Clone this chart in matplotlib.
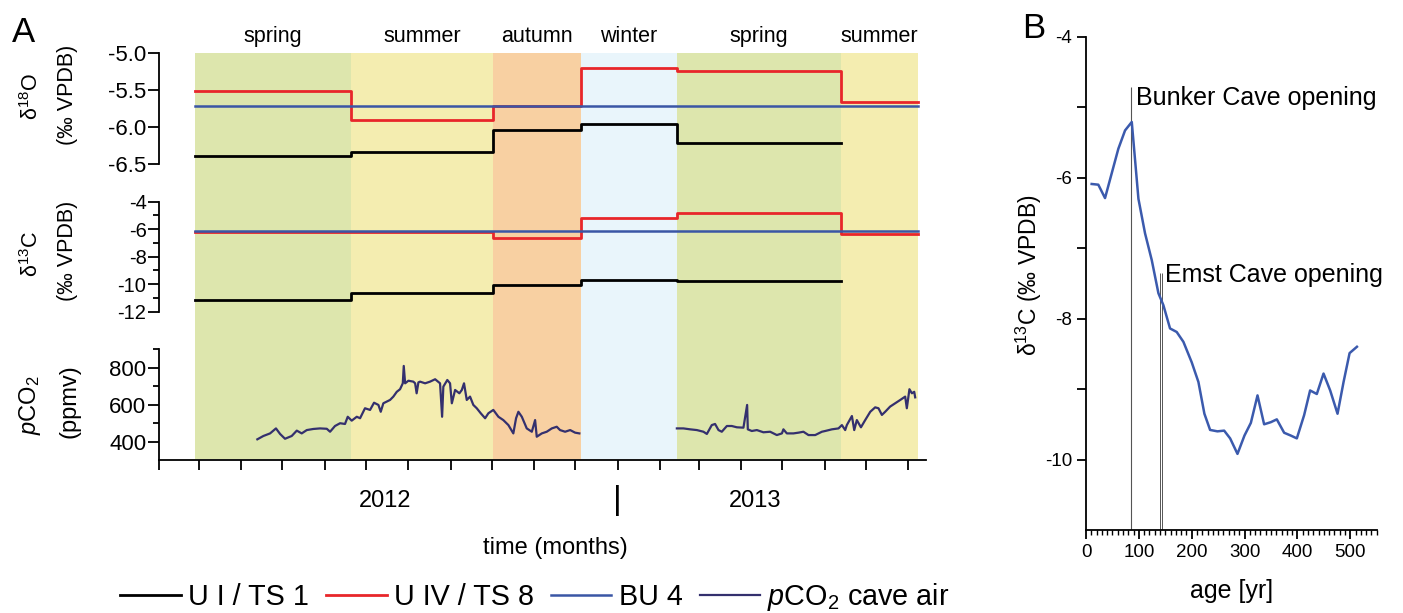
import numpy as np
import pandas as pd
import matplotlib
matplotlib.use('Agg')
import matplotlib.pyplot as plt
import matplotlib.dates as mdates
from matplotlib.ticker import MultipleLocator, FixedLocator

plt.rcParams['font.family'] = 'Liberation Sans'
plt.rcParams['mathtext.fontset'] = 'custom'
plt.rcParams['mathtext.rm'] = 'Liberation Sans'
plt.rcParams['mathtext.it'] = 'Liberation Sans:italic'
plt.rcParams['axes.unicode_minus'] = False

# sampling periods (seasons)
seasons = ['spring', 'summer', 'autumn', 'winter', 'spring', 'summer']
season_edges = pd.to_datetime(['2012-02-27', '2012-06-20', '2012-10-02', '2012-12-05',
                               '2013-02-13', '2013-06-13', '2013-08-08'])
season_colors = ['#dde6ad', '#f4edb0', '#f8d0a2', '#e9f5fb', '#dde6ad', '#f4edb0']

# d18O of calcite per season (permil VPDB)
d18o_u1 = [-6.39, -6.34, -6.04, -5.96, -6.21]
d18o_u4 = [-5.51, -5.90, -5.71, -5.20, -5.24, -5.66]
d18o_bu4 = -5.71

# d13C of calcite per season (permil VPDB)
d13c_u1 = [-11.15, -10.63, -10.08, -9.69, -9.77]
d13c_u4 = [-6.22, -6.20, -6.66, -5.16, -4.80, -6.37]
d13c_bu4 = -6.12

# cave air pCO2, days after 1 Feb 2012
start = pd.Timestamp('2012-02-01')
co2_days_1 = [71.8, 76.2, 81.1, 85.4, 88.4, 92.0, 96.9, 100.6, 104.2, 107.9,
              112.7, 117.6, 122.5, 124.9, 128.5, 132.2, 135.8, 137.8, 140.7, 144.4,
              146.8, 150.4, 154.1, 157.0, 160.2, 161.9, 163.8, 168.7, 171.1, 173.6,
              176.0, 178.0, 178.7, 179.7, 182.1, 185.7, 187.0, 188.1, 189.4, 190.6,
              194.3, 197.9, 201.6, 205.2, 206.7, 207.6, 210.5, 212.5, 213.8, 216.2,
              219.3, 221.1, 222.7, 224.7, 227.1, 229.5, 232.0, 234.9, 238.1, 240.5,
              244.1, 247.8, 251.4, 255.1, 258.7, 260.7, 262.4, 264.9, 268.5, 272.2,
              274.6, 275.8, 279.5, 283.1, 286.8, 290.4, 292.8, 296.5, 300.2, 303.8,
              306.9]
co2_ppm_1 = [413, 431, 445, 472, 442, 416, 431, 460, 445, 463,
             469, 472, 470, 454, 485, 500, 496, 535, 514, 535,
             527, 581, 572, 611, 599, 562, 608, 626, 644, 670,
             684, 716, 810, 716, 730, 725, 716, 662, 721, 725,
             716, 725, 738, 716, 535, 698, 734, 716, 608, 680,
             662, 680, 716, 626, 644, 599, 581, 554, 527, 554,
             572, 535, 517, 490, 445, 527, 562, 535, 472, 454,
             517, 427, 445, 454, 472, 481, 463, 454, 463, 449,
             445]
co2_days_2 = [378.1, 382.9, 387.8, 392.7, 397.5, 400.0, 403.6, 406.0, 408.5, 410.9,
              414.6, 418.2, 421.9, 426.7, 429.4, 429.9, 432.8, 436.5, 441.3, 446.2,
              451.1, 454.8, 455.9, 458.4, 463.2, 466.9, 470.5, 474.2, 479.1, 484.0,
              486.4, 491.3, 496.1, 498.6, 501.0, 502.2, 505.9, 507.6, 509.5, 512.5,
              515.6, 519.3, 522.9, 525.3, 527.8, 530.2, 533.8, 537.5, 541.2, 544.8,
              546.0, 547.9, 549.7, 551.4, 552.1]
co2_ppm_2 = [472, 472, 467, 463, 454, 442, 490, 496, 463, 454,
             485, 485, 478, 476, 599, 467, 458, 463, 451, 454,
             436, 445, 467, 445, 445, 449, 454, 436, 436, 454,
             458, 467, 472, 490, 463, 490, 539, 463, 517, 478,
             517, 562, 586, 581, 545, 562, 590, 608, 626, 644,
             581, 684, 662, 670, 640]

# panel B: stalagmite d13C record
age_yr = [10.7, 23.3, 36, 48.6, 61.2, 73.9, 86.6, 99.2, 111.7, 124.4,
          137, 146.4, 159, 171.6, 184.3, 200, 212.7, 224, 234.8, 248.6,
          261.4, 272.7, 286.6, 299.8, 311.9, 324.5, 337, 349.7, 361, 374.9,
          387.5, 398.9, 412.7, 424, 436.7, 449.4, 462, 475.9, 487.3, 498.7,
          512.6]
d13c_b = [-6.09, -6.10, -6.29, -5.94, -5.59, -5.33, -5.21, -6.30, -6.79, -7.17,
          -7.64, -7.81, -8.14, -8.19, -8.33, -8.62, -8.90, -9.35, -9.58, -9.60,
          -9.59, -9.70, -9.92, -9.66, -9.48, -9.09, -9.50, -9.47, -9.43, -9.62,
          -9.66, -9.70, -9.37, -9.02, -9.07, -8.78, -9.02, -9.35, -8.90, -8.49,
          -8.40]
bunker_open = 84.5
emst_open = [140, 144]

RED = '#e8262a'
BLUE = '#3a56a5'
CO2 = '#34306e'

W, H = 1403, 613
fig = plt.figure(figsize=(W / 100, H / 100), dpi=100)


def box(x0, y0, x1, y1):
    return [x0 / W, 1 - y1 / H, (x1 - x0) / W, (y1 - y0) / H]


def fxy(x, y):
    return x / W, 1 - y / H


xlim = (start, start + pd.Timedelta(days=560))

# background with season shading
ax_bg = fig.add_axes(box(159, 53, 926, 459))
for i, c in enumerate(season_colors):
    ax_bg.axvspan(season_edges[i], season_edges[i + 1], color=c, lw=0)
ax_bg.set_xlim(xlim)
ax_bg.set_ylim(0, 1)
ax_bg.axis('off')
edge_num = mdates.date2num(season_edges)
for i, name in enumerate(seasons):
    ax_bg.text((edge_num[i] + edge_num[i + 1]) / 2, 1.04, name, ha='center', va='center',
               fontsize=15.5)

ax1 = fig.add_axes(box(159, 53, 926, 164))
ax2 = fig.add_axes(box(159, 201.7, 926, 311.7))
ax3 = fig.add_axes(box(159, 349.3, 926, 460.2))


def steps(ax, vals, color, lw, z):
    x = season_edges[:len(vals) + 1]
    y = list(vals) + [vals[-1]]
    return ax.step(x, y, where='post', color=color, lw=lw, zorder=z)[0]


# d18O
h_u4 = steps(ax1, d18o_u4, RED, 2.0, 3)
h_bu = ax1.plot([season_edges[0], season_edges[-1]], [d18o_bu4, d18o_bu4], color=BLUE, lw=1.8, zorder=4)[0]
h_u1 = steps(ax1, d18o_u1, 'black', 2.0, 5)
ax1.set_ylim(-6.5, -5.0)
ax1.set_yticks([-5.0, -5.5, -6.0, -6.5])
ax1.set_yticklabels(['-5.0', '-5.5', '-6.0', '-6.5'])

# d13C
steps(ax2, d13c_u4, RED, 2.0, 3)
ax2.plot([season_edges[0], season_edges[-1]], [d13c_bu4, d13c_bu4], color=BLUE, lw=1.8, zorder=4)
steps(ax2, d13c_u1, 'black', 2.0, 5)
ax2.set_ylim(-12, -4)
ax2.yaxis.set_major_locator(FixedLocator([-4, -6, -8, -10, -12]))
ax2.yaxis.set_minor_locator(FixedLocator([-5, -7, -9, -11]))

# pCO2
ax3.plot(start + pd.to_timedelta(co2_days_1, unit='D'), co2_ppm_1, color=CO2, lw=1.6)
h_co2 = ax3.plot(start + pd.to_timedelta(co2_days_2, unit='D'), co2_ppm_2, color=CO2, lw=1.6)[0]
ax3.set_ylim(300, 900)
ax3.yaxis.set_major_locator(FixedLocator([400, 600, 800]))
ax3.yaxis.set_minor_locator(FixedLocator([500, 700, 900]))

for ax in (ax1, ax2, ax3):
    ax.set_facecolor('none')
    ax.set_xlim(xlim)
    ax.spines['top'].set_visible(False)
    ax.spines['right'].set_visible(False)
    ax.spines['left'].set_linewidth(1.3)
    ax.tick_params(axis='y', which='major', direction='out', length=8, width=1.3, pad=1)
    ax.tick_params(axis='y', which='minor', direction='out', length=4.5, width=1.3)
for ax in (ax1, ax2):
    ax.spines['bottom'].set_visible(False)
    ax.set_xticks([])
ax1.tick_params(axis='y', labelsize=16)
ax2.tick_params(axis='y', labelsize=14.5)
ax3.tick_params(axis='y', labelsize=16)

ax3.spines['bottom'].set_linewidth(1.3)
ax3.set_xticks(pd.date_range('2012-02-01', '2013-08-01', freq='MS'))
ax3.set_xticklabels([])
ax3.tick_params(axis='x', direction='out', length=7.5, width=1.3)

# year labels
xt = ax3.get_xaxis_transform()
ax3.text(mdates.date2num(pd.Timestamp('2012-07-15')), -0.37, '2012', transform=xt,
         ha='center', va='center', fontsize=17)
ax3.text(mdates.date2num(pd.Timestamp('2013-04-11')), -0.37, '2013', transform=xt,
         ha='center', va='center', fontsize=17)
ax3.text(mdates.date2num(pd.Timestamp('2013-01-01')), -0.36, '|', transform=xt,
         ha='center', va='center', fontsize=24)
fig.text(*fxy(555, 548), 'time (months)', ha='center', va='center', fontsize=17)

# y labels panel A
fig.text(*fxy(32, 96), 'δ$^{18}$O', rotation=90, ha='center', va='center', fontsize=15.5)
fig.text(*fxy(67, 95), '(‰ VPDB)', rotation=90, ha='center', va='center', fontsize=15.5)
fig.text(*fxy(32, 254), 'δ$^{13}$C', rotation=90, ha='center', va='center', fontsize=15.5)
fig.text(*fxy(67, 251), '(‰ VPDB)', rotation=90, ha='center', va='center', fontsize=15.5)
fig.text(*fxy(30, 405), '$\\it{p}$CO$_2$', rotation=90, ha='center', va='center', fontsize=17)
fig.text(*fxy(69, 401), '(ppmv)', rotation=90, ha='center', va='center', fontsize=17)

fig.text(*fxy(24, 32), 'A', ha='center', va='center', fontsize=25)
fig.text(*fxy(1034, 28), 'B', ha='center', va='center', fontsize=25)

fig.legend([h_u1, h_u4, h_bu, h_co2],
           ['U I / TS 1', 'U IV / TS 8', 'BU 4', '$\\it{p}$CO$_2$ cave air'],
           loc='center', bbox_to_anchor=fxy(535, 597), ncol=4, frameon=False,
           fontsize=20.7, handlelength=2.1, handletextpad=0.25, columnspacing=0.6,
           borderpad=0)

# panel B
axb = fig.add_axes(box(1086, 36.7, 1376.7, 530))
axb.plot(age_yr, d13c_b, color='#3b5aad', lw=1.8, zorder=3)
axb.vlines(bunker_open, -11, -4.72, color='#555555', lw=0.8)
axb.vlines(emst_open, -11, -7.36, color='#555555', lw=0.7)
axb.text(bunker_open + 10, -4.87, 'Bunker Cave opening', ha='left', va='center', fontsize=18)
axb.text(emst_open[1] + 6, -7.38, 'Emst Cave opening', ha='left', va='center', fontsize=18)
axb.set_xlim(0, 550)
axb.set_ylim(-11, -4)
axb.xaxis.set_major_locator(MultipleLocator(100))
axb.xaxis.set_minor_locator(MultipleLocator(10))
axb.yaxis.set_major_locator(FixedLocator([-4, -6, -8, -10]))
axb.yaxis.set_minor_locator(FixedLocator([-5, -7, -9]))
for s in ('top', 'right'):
    axb.spines[s].set_visible(False)
for s in ('left', 'bottom'):
    axb.spines[s].set_linewidth(1.3)
axb.tick_params(axis='both', which='major', direction='out', length=6.5, width=1.3, labelsize=13.5)
axb.tick_params(axis='y', which='minor', direction='out', length=6.5, width=1.3)
axb.tick_params(axis='x', which='minor', direction='out', length=3.5, width=1.0)
axb.set_xlabel('age [yr]', fontsize=18, labelpad=13)
fig.text(*fxy(1029, 275), 'δ$^{13}$C (‰ VPDB)', rotation=90, ha='center', va='center', fontsize=16.5)

fig.savefig('out.png', dpi=100)
